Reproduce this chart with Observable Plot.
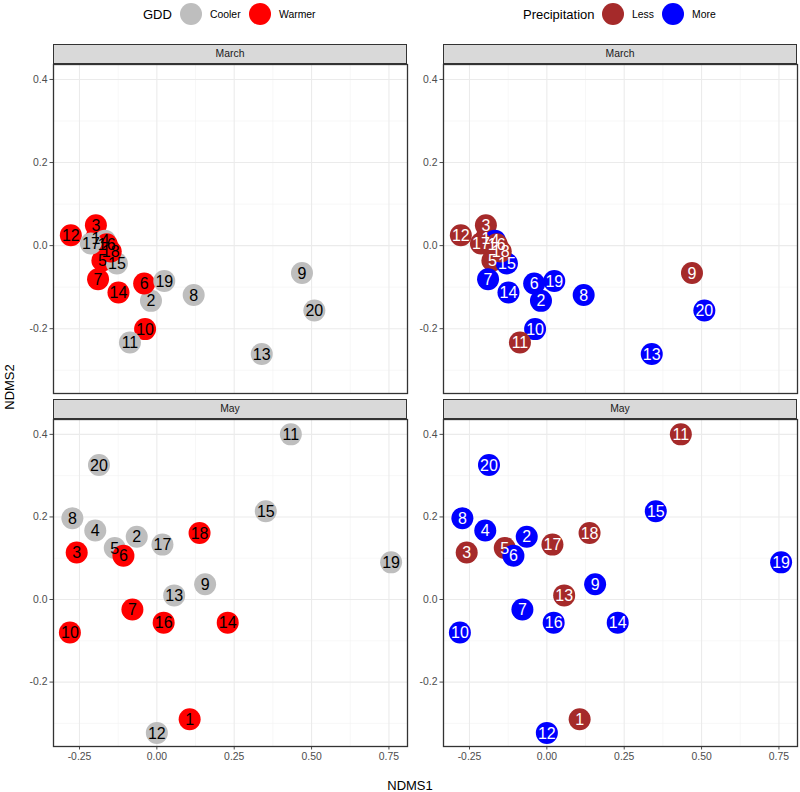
<!DOCTYPE html>
<html>
<head>
<meta charset="utf-8">
<script src="https://cdn.jsdelivr.net/npm/d3@7"></script>
<script src="https://cdn.jsdelivr.net/npm/@observablehq/plot@0.6"></script>
<style>
  body { margin: 0; background: #fff; font-family: "Liberation Sans", Arial, Helvetica, sans-serif; }
  #root { position: relative; width: 800px; height: 792px; overflow: hidden; background: #fff; }
  .abs { position: absolute; }
  .strip { position: absolute; box-sizing: border-box; height: 20px; background: #d9d9d9;
           border: 1px solid #333; font-size: 10.4px; color: #1a1a1a; text-align: center; line-height: 18px; z-index: 3; }
  .lg { position: absolute; transform: translateY(-50%); white-space: nowrap; color: #000; }
  .lgt { font-size: 13px; }
  .lgl { font-size: 10.4px; }
  .key { position: absolute; width: 22px; height: 22px; border-radius: 50%; transform: translate(-50%, -50%); }
  .axt { position: absolute; font-size: 13px; color: #000; white-space: nowrap; z-index: 5; }
</style>
</head>
<body>
<div id="root"></div>
<script>
// ---------------- data ----------------
const sites = [1,2,3,4,5,6,7,8,9,10,11,12,13,14,15,16,17,18,19,20];
const months = ["March", "May"];

const marchX = [-0.197,-0.019,-0.197,-0.168,-0.176,-0.041,-0.190, 0.119, 0.469,-0.038,-0.087,-0.278, 0.339,-0.124,-0.129,-0.162,-0.213,-0.149, 0.024, 0.509];
const marchY = [ 0.017,-0.133, 0.049, 0.012,-0.036,-0.091,-0.081,-0.119,-0.066,-0.201,-0.233, 0.025,-0.261,-0.113,-0.043, 0.003, 0.005,-0.014,-0.085,-0.156];
const mayX   = [ 0.106,-0.065,-0.259,-0.199,-0.136,-0.108,-0.079,-0.273, 0.156,-0.281, 0.433, 0.000, 0.056, 0.229, 0.352, 0.022, 0.018, 0.138, 0.757,-0.187];
const mayY   = [-0.290, 0.152, 0.114, 0.167, 0.125, 0.106,-0.024, 0.197, 0.037,-0.080, 0.400,-0.323, 0.010,-0.056, 0.214,-0.056, 0.133, 0.161, 0.090, 0.326];

const marchGDD    = ["Warmer","Cooler","Warmer","Cooler","Warmer","Warmer","Warmer","Cooler","Cooler","Warmer","Cooler","Warmer","Cooler","Warmer","Cooler","Warmer","Cooler","Warmer","Cooler","Cooler"];
const mayGDD      = ["Warmer","Cooler","Warmer","Cooler","Cooler","Warmer","Warmer","Cooler","Cooler","Warmer","Cooler","Cooler","Cooler","Warmer","Cooler","Warmer","Cooler","Warmer","Cooler","Cooler"];
const marchPrecip = ["Less","More","Less","More","Less","More","More","More","Less","More","Less","Less","More","More","More","Less","Less","Less","More","More"];
const mayPrecip   = ["Less","More","Less","More","Less","More","More","More","More","More","Less","More","Less","More","More","More","Less","Less","More","More"];

const gddLevels = ["Cooler", "Warmer"];
const gddColors = ["#bebebe", "#ff0000"];
const precipLevels = ["Less", "More"];
const precipColors = ["#a52a2a", "#0000ff"];

const xTicks = [-0.25, 0, 0.25, 0.5, 0.75];
const xMinor = [-0.125, 0.125, 0.375, 0.625];
const yTicks = [-0.2, 0, 0.2, 0.4];
const yMinor = [-0.3, -0.1, 0.1, 0.3];

// ---------------- build tables ----------------
const tables = {
  March: sites.map((s, i) => ({id: s, x: marchX[i], y: marchY[i], gdd: marchGDD[i], precip: marchPrecip[i]})),
  May:   sites.map((s, i) => ({id: s, x: mayX[i],   y: mayY[i],   gdd: mayGDD[i],   precip: mayPrecip[i]}))
};

const xDomain = [-0.334, 0.81];
const yDomain = [-0.356, 0.436];
const FONT = '"Liberation Sans", Arial, Helvetica, sans-serif';

const root = document.getElementById("root");

// column geometry (page px)
const cols = [
  {key: "gdd",    levels: gddLevels,    colors: gddColors,    textFill: "#000", left: 0,   width: 412, ml: 53, mr: 5, panelL: 53,  panelR: 407},
  {key: "precip", levels: precipLevels, colors: precipColors, textFill: "#fff", left: 412, width: 388, ml: 31, mr: 3, panelL: 443, panelR: 797}
];
// row geometry
const rows = [
  {month: "March", top: 62,  height: 333, mt: 2, mb: 2,  strip: 44,  showX: false},
  {month: "May",   top: 417, height: 362, mt: 2, mb: 33, strip: 399, showX: true}
];

function panel(col, row) {
  const data = tables[row.month];
  return Plot.plot({
    width: col.width,
    height: row.height,
    marginLeft: col.ml,
    marginRight: col.mr,
    marginTop: row.mt,
    marginBottom: row.mb,
    style: {fontFamily: FONT, fontSize: "10.4px", color: "#4d4d4d", background: "transparent", overflow: "visible"},
    x: {domain: xDomain, ticks: xTicks, tickFormat: d => d.toFixed(2), tickSize: 3.5, tickPadding: 2.5,
        label: null, axis: row.showX ? "bottom" : null},
    y: {domain: yDomain, ticks: yTicks, tickFormat: d => d.toFixed(1), tickSize: 3.5, tickPadding: 2.5, label: null},
    color: {type: "ordinal", domain: col.levels, range: col.colors},
    marks: [
      Plot.ruleX(xMinor, {stroke: "#f2f2f2", strokeWidth: 0.6}),
      Plot.ruleY(yMinor, {stroke: "#f2f2f2", strokeWidth: 0.6}),
      Plot.ruleX(xTicks, {stroke: "#ebebeb", strokeWidth: 1.1}),
      Plot.ruleY(yTicks, {stroke: "#ebebeb", strokeWidth: 1.1}),
      Plot.dot(data, {x: "x", y: "y", r: 11, fill: col.key, stroke: null}),
      Plot.text(data, {x: "x", y: "y", text: d => String(d.id), fill: col.textFill, fontSize: 16, fontFamily: FONT, dy: 0.5}),
      Plot.frame({stroke: "#333333", strokeWidth: 1.3})
    ]
  });
}

for (const col of cols) {
  for (const row of rows) {
    const wrap = document.createElement("div");
    wrap.className = "abs";
    wrap.style.left = col.left + "px";
    wrap.style.top = row.top + "px";
    wrap.appendChild(panel(col, row));
    root.appendChild(wrap);

    const st = document.createElement("div");
    st.className = "strip";
    st.style.left = col.panelL + "px";
    st.style.width = (col.panelR - col.panelL) + "px";
    st.style.top = row.strip + "px";
    st.textContent = row.month;
    root.appendChild(st);
  }
}

// ---------------- legends ----------------
const legendY = 13.5;
function addText(txt, left, cls) {
  const d = document.createElement("div");
  d.className = "lg " + cls;
  d.style.left = left + "px";
  d.style.top = legendY + "px";
  d.textContent = txt;
  root.appendChild(d);
}
function addKey(cx, color) {
  const d = document.createElement("div");
  d.className = "key";
  d.style.left = cx + "px";
  d.style.top = legendY + "px";
  d.style.background = color;
  root.appendChild(d);
}
addText("GDD", 143, "lgt");
addKey(191, gddColors[0]); addText(gddLevels[0], 210, "lgl");
addKey(260, gddColors[1]); addText(gddLevels[1], 279, "lgl");
addText("Precipitation", 523, "lgt");
addKey(613, precipColors[0]); addText(precipLevels[0], 632, "lgl");
addKey(673, precipColors[1]); addText(precipLevels[1], 692, "lgl");

// ---------------- axis titles ----------------
const xt = document.createElement("div");
xt.className = "axt";
xt.textContent = "NDMS1";
xt.style.left = "410px";
xt.style.top = "785px";
xt.style.transform = "translate(-50%, -50%)";
root.appendChild(xt);

const yt = document.createElement("div");
yt.className = "axt";
yt.textContent = "NDMS2";
yt.style.left = "9px";
yt.style.top = "387px";
yt.style.transform = "translate(-50%, -50%) rotate(-90deg)";
root.appendChild(yt);
</script>
</body>
</html>
